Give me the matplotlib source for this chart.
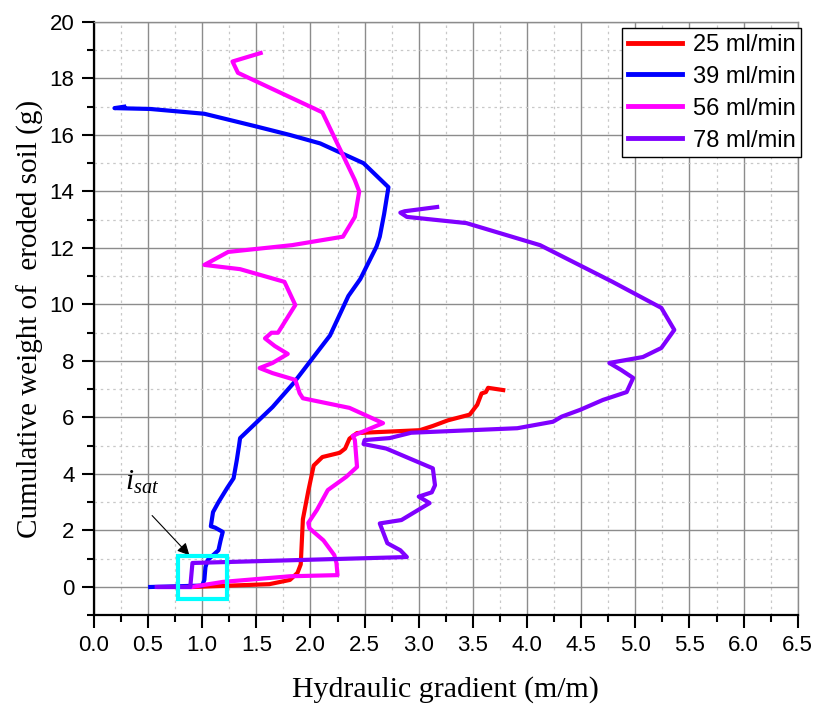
import matplotlib

matplotlib.use("Agg")

import matplotlib.pyplot as plt
from matplotlib.patches import Rectangle
from matplotlib.ticker import MultipleLocator

# cumulative eroded soil vs hydraulic gradient, one run per flow rate
x_25 = [0.91, 1.62, 1.81, 1.88, 1.91, 1.93, 1.98, 2.03, 2.11, 2.27, 2.32, 2.36, 2.43,
        3.01, 3.13, 3.27, 3.47, 3.54, 3.58, 3.62, 3.64, 3.78]
y_25 = [0.0, 0.1, 0.25, 0.5, 0.8, 2.4, 3.4, 4.3, 4.6, 4.75, 4.9, 5.25, 5.45,
        5.55, 5.7, 5.9, 6.1, 6.45, 6.85, 6.9, 7.05, 6.97]

x_39 = [0.52, 1.0, 1.02, 1.03, 1.05, 1.15, 1.17, 1.19, 1.12, 1.08, 1.10, 1.15, 1.23,
        1.29, 1.32, 1.34, 1.35, 1.65, 1.84, 2.18, 2.35, 2.46, 2.61, 2.64, 2.68, 2.72,
        2.49, 2.09, 1.81, 1.50, 1.02, 0.52, 0.19, 0.28]
y_39 = [0.0, 0.05, 0.25, 0.7, 0.95, 1.3, 1.65, 1.95, 2.1, 2.15, 2.65, 3.0, 3.5,
        3.85, 4.5, 5.0, 5.27, 6.37, 7.2, 8.9, 10.3, 10.9, 12.05, 12.4, 13.2, 14.15,
        15.0, 15.7, 16.0, 16.3, 16.75, 16.92, 16.95, 17.0]

x_56 = [0.6, 0.9, 1.19, 1.81, 2.25, 2.24, 2.22, 2.12, 1.99, 1.98, 2.06, 2.16, 2.33,
        2.43, 2.41, 2.39, 2.67, 2.36, 1.93, 1.90, 1.86, 1.65, 1.53, 1.65, 1.79, 1.67,
        1.58, 1.64, 1.70, 1.86, 1.76, 1.35, 1.02, 1.24, 1.83, 2.30, 2.41, 2.45, 2.41,
        2.11, 1.33, 1.28, 1.54]
y_56 = [0.0, 0.0, 0.18, 0.38, 0.42, 0.85, 1.13, 1.65, 2.08, 2.27, 2.73, 3.43, 3.9,
        4.25, 5.2, 5.35, 5.8, 6.34, 6.68, 6.86, 7.33, 7.57, 7.75, 7.93, 8.25, 8.53,
        8.8, 9.0, 9.0, 9.98, 10.8, 11.25, 11.4, 11.86, 12.1, 12.4, 13.1, 14.0, 14.4,
        16.8, 18.2, 18.6, 18.9]

x_78 = [0.58, 0.89, 0.91, 1.19, 2.89, 2.83, 2.71, 2.67, 2.64, 2.84, 3.10, 3.00, 3.12,
        3.15, 3.13, 2.70, 2.49, 2.50, 2.73, 2.93, 3.91, 4.24, 4.32, 4.49, 4.70, 4.92,
        4.98, 4.87, 4.76, 5.07, 5.24, 5.36, 5.24, 4.79, 4.12, 3.44, 2.89, 2.83, 2.87,
        3.17]
y_78 = [0.0, 0.0, 0.85, 0.88, 1.06, 1.3, 1.55, 1.95, 2.25, 2.37, 2.97, 3.2, 3.35,
        3.6, 4.2, 4.9, 5.06, 5.2, 5.27, 5.46, 5.62, 5.85, 6.03, 6.27, 6.62, 6.9,
        7.4, 7.68, 7.93, 8.14, 8.46, 9.1, 9.88, 10.8, 12.1, 12.88, 13.1, 13.25, 13.3,
        13.45]

series = [
    ("25 ml/min", x_25, y_25, "#ff0000"),
    ("39 ml/min", x_39, y_39, "#0000ff"),
    ("56 ml/min", x_56, y_56, "#ff00ff"),
    ("78 ml/min", x_78, y_78, "#8000ff"),
]

serif = ["Liberation Serif", "DejaVu Serif"]
sans = ["Liberation Sans", "DejaVu Sans"]

plt.rcParams["mathtext.fontset"] = "custom"
plt.rcParams["mathtext.it"] = "Liberation Serif:italic"
plt.rcParams["mathtext.rm"] = "Liberation Serif"

fig = plt.figure(figsize=(8.31, 7.08), dpi=100)
ax = fig.add_axes([0.113, 0.131, 0.847, 0.838])

for label, xs, ys, color in series:
    ax.plot(xs, ys, color=color, linewidth=3.0, label=label)

# saturation point marker box
ax.add_patch(Rectangle((0.78, -0.42), 0.45, 1.52, fill=False, edgecolor="#00ffff",
                       linewidth=3.0, zorder=5))
ax.annotate("", xy=(0.90, 1.05), xytext=(0.52, 2.6),
            arrowprops=dict(arrowstyle="-|>", color="black", lw=0.8, mutation_scale=18))
ax.text(0.29, 3.7, r"$i_{sat}$", fontsize=21, ha="left", va="center")

ax.set_xlim(0, 6.5)
ax.set_ylim(-1, 20)
ax.xaxis.set_major_locator(MultipleLocator(0.5))
ax.xaxis.set_minor_locator(MultipleLocator(0.25))
ax.yaxis.set_major_locator(MultipleLocator(2))
ax.yaxis.set_minor_locator(MultipleLocator(1))
ax.grid(True, which="major", color="#8c8c8c", linewidth=1.0)
ax.grid(True, which="minor", color="#c8c8c8", linestyle=(0, (2, 3)), linewidth=0.9)
ax.set_axisbelow(True)

ax.tick_params(which="both", direction="out", top=False, right=False, width=1.5)
ax.tick_params(which="major", length=9, labelsize=16, pad=5)
ax.tick_params(which="minor", length=5)
ax.set_xticks(ax.get_xticks())
ax.set_xticklabels([f"{v:.1f}" for v in ax.get_xticks()])
ax.set_yticks(ax.get_yticks())
ax.set_yticklabels([f"{int(v)}" for v in ax.get_yticks()])
ax.set_xlim(0, 6.5)
ax.set_ylim(-1, 20)
for lab in ax.get_xticklabels() + ax.get_yticklabels():
    lab.set_family(sans)

for side in ("left", "bottom"):
    ax.spines[side].set_linewidth(1.6)
    ax.spines[side].set_color("black")
for side in ("top", "right"):
    ax.spines[side].set_color("#8c8c8c")
    ax.spines[side].set_linewidth(1.0)

ax.set_xlabel("Hydraulic gradient (m/m)", family=serif, fontsize=21.5, labelpad=15)
ax.set_ylabel("Cumulative weight of  eroded soil (g)", family=serif, fontsize=21, labelpad=4)

leg = ax.legend(loc="upper right", bbox_to_anchor=(1.005, 0.99),
                prop={"family": sans, "size": 17}, fancybox=False,
                framealpha=1, edgecolor="black", borderpad=0.25, handlelength=2.3,
                handletextpad=0.45, labelspacing=0.42, borderaxespad=0)
leg.get_frame().set_linewidth(1.0)
for line in leg.get_lines():
    line.set_linewidth(3.5)

fig.savefig("out.png", dpi=100)
plt.close(fig)
